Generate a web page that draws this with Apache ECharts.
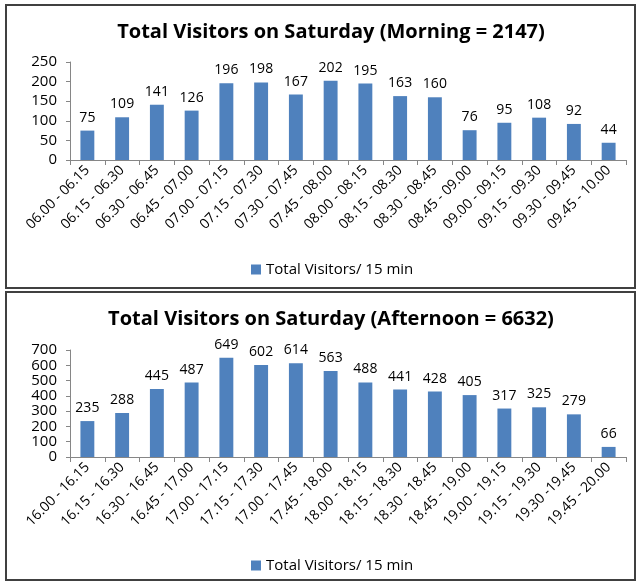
<!DOCTYPE html>
<html><head><meta charset="utf-8">
<script src="https://cdn.jsdelivr.net/npm/echarts@6/dist/echarts.min.js"></script>
<style>html,body{margin:0;padding:0;background:#fff}#c{width:638px;height:583px}</style>
</head><body><div id="c"></div>
<script>
const morningCats = ["06.00 - 06.15","06.15 - 06.30","06.30 - 06.45","06.45 - 07.00","07.00 - 07.15","07.15 - 07.30","07.30 - 07.45","07.45 - 08.00","08.00 - 08.15","08.15 - 08.30","08.30 - 08.45","08.45 - 09.00","09.00 - 09.15","09.15 - 09.30","09.30 - 09.45","09.45 - 10.00"];
const morningVals = [75,109,141,126,196,198,167,202,195,163,160,76,95,108,92,44];
const afternoonCats = ["16.00 - 16.15","16.15 - 16.30","16.30 - 16.45","16.45 - 17.00","17.00 - 17.15","17.15 - 17.30","17.00 - 17.45","17.45 - 18.00","18.00 - 18.15","18.15 - 18.30","18.30 - 18.45","18.45 - 19.00","19.00 - 19.15","19.15 - 19.30","19.30 -19.45","19.45 - 20.00"];
const afternoonVals = [235,288,445,487,649,602,614,563,488,441,428,405,317,325,279,66];
const titles = ["Total Visitors on Saturday (Morning = 2147)","Total Visitors on Saturday (Afternoon = 6632)"];
const seriesName = "Total Visitors/ 15 min";

const FONT = "'Open Sans', sans-serif";
const BAR = "#4F81BD";
const chart = echarts.init(document.getElementById('c'), null, {renderer:'canvas'});
function xAxis(i, cats){
  return {type:'category', gridIndex:i, data:cats,
    axisLine:{lineStyle:{color:'#868686'}},
    axisTick:{show:true, length:5, lineStyle:{color:'#868686'}},
    axisLabel:{rotate:45, color:'#000', fontFamily:FONT, fontSize:14, margin:8, interval:0}};
}
function yAxis(i, max, step){
  return {type:'value', gridIndex:i, min:0, max:max, interval:step,
    axisLine:{show:true, lineStyle:{color:'#868686'}},
    axisTick:{show:true, length:4, lineStyle:{color:'#868686'}},
    splitLine:{show:false},
    axisLabel:{color:'#000', fontFamily:FONT, fontSize:15, margin:13}};
}
function bar(i, vals){
  return {type:'bar', name:seriesName, xAxisIndex:i, yAxisIndex:i, data:vals, barWidth:'40%',
    itemStyle:{color:BAR},
    label:{show:true, position:'top', distance:6, color:'#000', fontFamily:FONT, fontSize:14}};
}
chart.setOption({
  animation:false,
  title:[
    {text:titles[0], left:326, textAlign:'center', top:17, textStyle:{fontFamily:FONT, fontWeight:'bold', fontSize:20, color:'#000'}},
    {text:titles[1], left:326, textAlign:'center', top:304, textStyle:{fontFamily:FONT, fontWeight:'bold', fontSize:20, color:'#000'}}
  ],
  legend:[
    {data:[seriesName], top:257, left:246, itemWidth:10, itemHeight:10, itemGap:4, icon:'rect', textStyle:{fontFamily:FONT, fontSize:15, color:'#000'}},
    {data:[seriesName], top:553, left:246, itemWidth:10, itemHeight:10, itemGap:4, icon:'rect', textStyle:{fontFamily:FONT, fontSize:15, color:'#000'}}
  ],
  grid:[
    {left:70, right:12, top:62, height:98},
    {left:70, right:12, top:350, height:107}
  ],
  xAxis:[xAxis(0, morningCats), xAxis(1, afternoonCats)],
  yAxis:[yAxis(0, 250, 50), yAxis(1, 700, 100)],
  series:[bar(0, morningVals), bar(1, afternoonVals)],
  graphic:[
    {type:'rect', shape:{x:6, y:5, width:629, height:283}, style:{fill:'none', stroke:'#404040', lineWidth:2}, silent:true},
    {type:'rect', shape:{x:6, y:292, width:629, height:288}, style:{fill:'none', stroke:'#404040', lineWidth:2}, silent:true}
  ]
});
</script></body></html>
